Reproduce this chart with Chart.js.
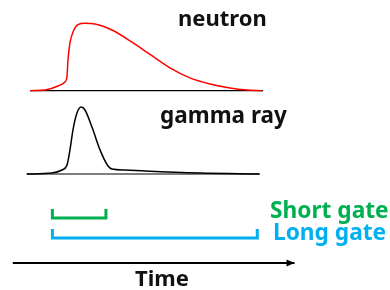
<!DOCTYPE html>
<html lang="en">
<head>
<meta charset="UTF-8">
<title>Neutron / gamma pulse shapes</title>
<script src="https://cdn.jsdelivr.net/npm/chart.js"></script>
<style>
  html, body { margin: 0; padding: 0; background: #fff; }
  #wrap { width: 390px; height: 290px; }
</style>
</head>
<body>
<div id="wrap"><canvas id="psd"></canvas></div>
<script>
// pulse shapes: time in ns, amplitude normalised to the peak
var neutronTime = [0, 12.6, 23.8, 29.8, 31.5, 32.4, 34.1, 36.7, 41, 47, 55.6, 70.2, 87.4, 102.8, 120, 137.2, 154.4, 171.6, 186.2, 199];
var neutronAmp  = [0, 0.01, 0.07, 0.13, 0.20, 0.46, 0.71, 0.87, 0.98, 1.0, 0.99, 0.90, 0.72, 0.54, 0.34, 0.19, 0.10, 0.04, 0.01, 0];
var gammaTime = [-3, 18.6, 27.2, 31.5, 34.1, 36.7, 40.1, 43.6, 47, 53, 59.9, 66.8, 70.2, 81.4, 98.6, 145.8, 197];
var gammaAmp  = [0, 0.015, 0.06, 0.13, 0.36, 0.66, 0.91, 1.0, 0.955, 0.70, 0.36, 0.12, 0.075, 0.06, 0.045, 0.015, 0];
var neutronBaseline = [0, 200];
var gammaBaseline = [-3, 197];

// integration gates (ns)
var gateStart = 19;
var shortGateEnd = 65;
var longGateEnd = 195;
var timeArrow = [-15, 227];

var labels = ['neutron', 'gamma ray', 'Short gate', 'Long gate', 'Time'];

// --- layout (pixels) ---
var W = 390, H = 290;
var neutronRow = { base: 90.7, peak: 23.3 };
var gammaRow = { base: 174, peak: 107 };
var shortRow = { top: 209, bottom: 218 };
var longRow = { top: 229, bottom: 238 };
var arrowRow = 263;
var labelPos = [
    { x: 178, y: 26, size: 22, color: '#111' },
    { x: 160, y: 123, size: 22.5, color: '#111' },
    { x: 270, y: 218, size: 22.7, color: '#00B050' },
    { x: 273, y: 240, size: 22.7, color: '#00B0F0' },
    { x: 135, y: 286, size: 22, color: '#111' }
];

function ampAxis(row) {
    var k = row.base - row.peak;
    return { type: 'linear', display: false, min: (row.base - H) / k, max: row.base / k };
}

function pts(xs, ys) {
    return xs.map(function (x, i) { return { x: x, y: ys[i] }; });
}

function bracket(start, end, row) {
    return [
        { x: start, y: row.top }, { x: start, y: row.bottom },
        { x: end, y: row.bottom }, { x: end, y: row.top }
    ];
}

var labelPlugin = {
    id: 'labels',
    afterDatasetsDraw: function (chart) {
        var ctx = chart.ctx;
        var xs = chart.scales.x, ys = chart.scales.yL;
        // arrow head at the end of the time axis
        var tx = xs.getPixelForValue(timeArrow[1]);
        var ty = ys.getPixelForValue(arrowRow);
        ctx.save();
        ctx.fillStyle = '#000';
        ctx.beginPath();
        ctx.moveTo(tx, ty);
        ctx.lineTo(tx - 8, ty - 3.5);
        ctx.lineTo(tx - 8, ty + 3.5);
        ctx.closePath();
        ctx.fill();

        ctx.textAlign = 'left';
        ctx.textBaseline = 'alphabetic';
        labels.forEach(function (t, i) {
            var p = labelPos[i];
            ctx.font = 'bold ' + p.size + 'px "Noto Sans", sans-serif';
            ctx.fillStyle = p.color;
            ctx.fillText(t, p.x, p.y);
        });
        ctx.restore();
    }
};

new Chart(document.getElementById('psd'), {
    type: 'scatter',
    data: {
        datasets: [
            { data: pts(neutronTime, neutronAmp), yAxisID: 'yN', borderColor: '#FF0000', borderWidth: 1.5, cubicInterpolationMode: 'monotone' },
            { data: pts(neutronBaseline, [0, 0]), yAxisID: 'yN', borderColor: '#000', borderWidth: 1.2 },
            { data: pts(gammaTime, gammaAmp), yAxisID: 'yG', borderColor: '#000', borderWidth: 1.5, cubicInterpolationMode: 'monotone' },
            { data: pts(gammaBaseline, [0, 0]), yAxisID: 'yG', borderColor: '#000', borderWidth: 1.2 },
            { data: bracket(gateStart, shortGateEnd, shortRow), yAxisID: 'yL', borderColor: '#00B050', borderWidth: 3 },
            { data: bracket(gateStart, longGateEnd, longRow), yAxisID: 'yL', borderColor: '#00B0F0', borderWidth: 3 },
            { data: pts(timeArrow, [arrowRow, arrowRow]), yAxisID: 'yL', borderColor: '#000', borderWidth: 2 }
        ]
    },
    options: {
        responsive: true,
        maintainAspectRatio: false,
        animation: false,
        events: [],
        layout: { padding: 0 },
        showLine: true,
        elements: { point: { radius: 0 }, line: { borderCapStyle: 'butt', borderJoinStyle: 'miter' } },
        plugins: { legend: { display: false }, tooltip: { enabled: false } },
        scales: {
            x: { type: 'linear', display: false, min: -26, max: 309 },
            yN: ampAxis(neutronRow),
            yG: ampAxis(gammaRow),
            yL: { type: 'linear', display: false, min: 0, max: H, reverse: true }
        }
    },
    plugins: [labelPlugin]
});
</script>
</body>
</html>
